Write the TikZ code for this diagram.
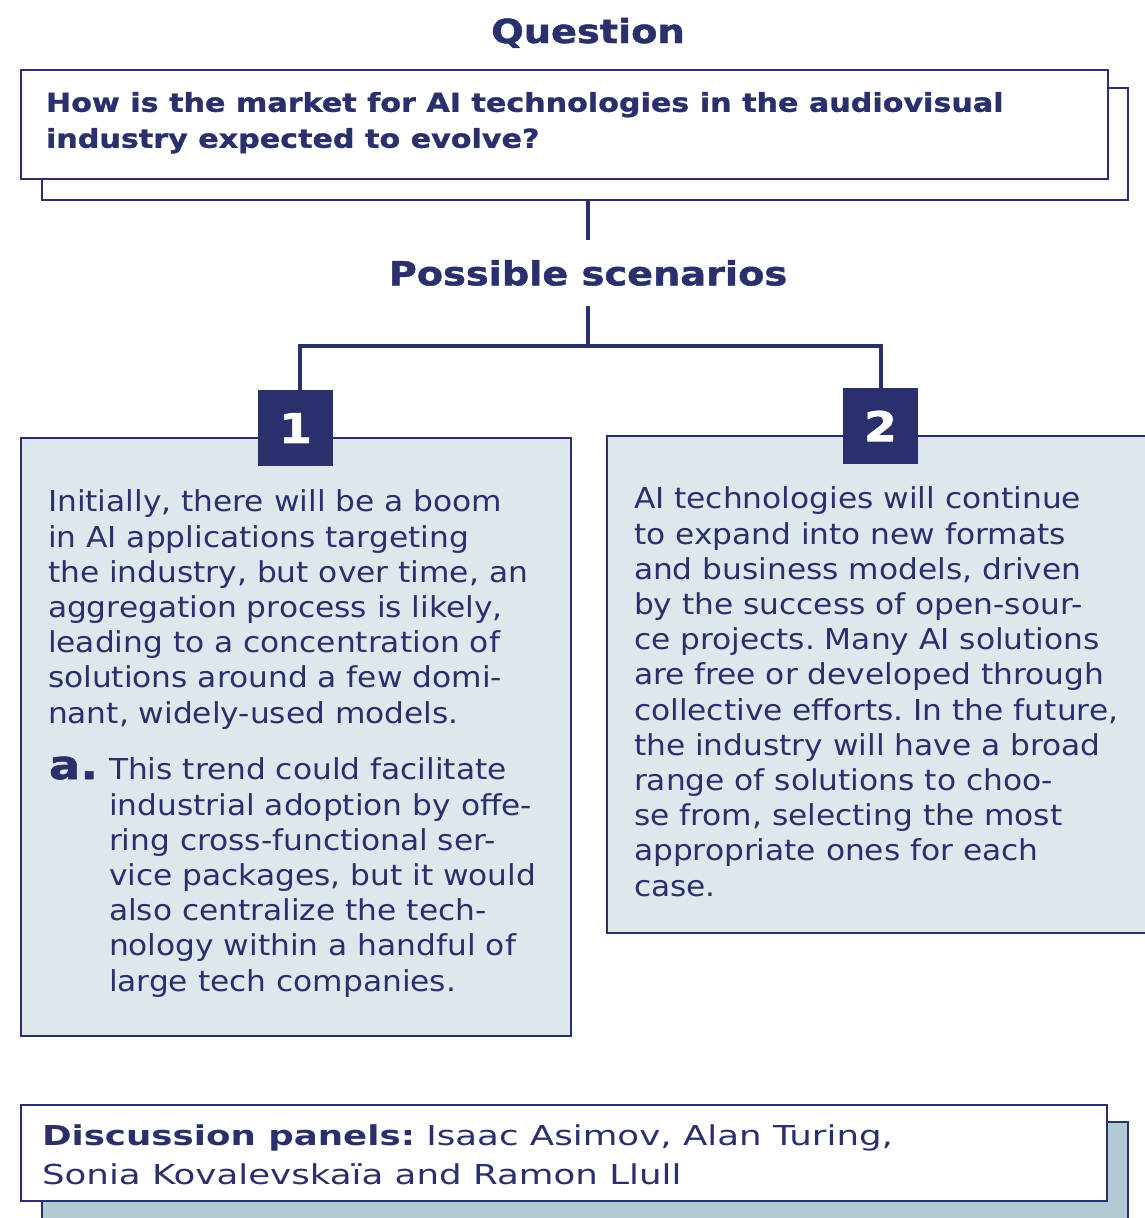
\documentclass[tikz,border=0pt]{standalone}
\usepackage{fontspec}
\usepackage{xcolor}
\setmainfont{DejaVu Sans}
\newfontfamily\bodyfont[FakeStretch=1.085]{DejaVu Sans}
\newfontfamily\headfont[FakeStretch=1.16, FakeBold=1.5]{DejaVu Sans}
\newfontfamily\qfont[FakeStretch=1.16, FakeBold=1.2]{DejaVu Sans}
\newfontfamily\panelfont[FakeStretch=1.3]{DejaVu Sans}
\definecolor{navy}{RGB}{42,48,108}
\definecolor{paleblue}{RGB}{221,231,236}
\definecolor{greyblue}{RGB}{178,202,209}
\frenchspacing

\begin{document}
\begin{tikzpicture}[x=1pt, y=-1pt,
	every node/.style = {inner sep=0pt, outer sep=0pt, text=navy},
	frame/.style = {draw=navy, line width=2pt, anchor=north west},
	badge/.style = {fill=navy, minimum width=75pt, minimum height=76pt,
	                text=white, font=\headfont\bfseries\fontsize{41}{41}\selectfont},
	link/.style = {draw=navy, line width=4pt},
	heading/.style = {font=\headfont\bfseries\fontsize{33}{33}\selectfont},
	txt/.style = {anchor=north west, align=left,
	              font=\bodyfont\fontsize{28.8}{35.2}\selectfont}]
	\useasboundingbox (0,0) rectangle (1145,1218);

	\node[heading, anchor=base] (qtitle) at (588,43) {Question};
	\node[frame, fill=white, minimum width=1086pt, minimum height=112pt] (qback) at (42,88) {};
	\node[frame, fill=white, minimum width=1087pt, minimum height=109pt] (qbox) at (21,70) {};
	\node[anchor=north west, align=left, font=\qfont\bfseries\fontsize{26}{36}\selectfont] (qtext) at (46,92)
		{How is the market for AI technologies in the audiovisual\\industry expected to evolve?};

	\node[heading, minimum height=66pt] (scen) at (588,273) {Possible scenarios};
	\coordinate (fork) at (588,346);

	\node[frame, fill=paleblue, minimum width=550pt, minimum height=598pt] (box1) at (21,438) {};
	\node[frame, fill=paleblue, minimum width=560pt, minimum height=497pt] (box2) at (607,436) {};
	\node[badge] (badge1) at (295.5,428) {\raisebox{-3pt}{1}};
	\node[badge] (badge2) at (880.5,426) {\raisebox{-3pt}{2}};

	\draw[link] (scen.north) -- (scen.north |- qback.south);
	\draw[link] (scen.south) -- (fork);
	\draw[link] ([xshift=4pt]badge1.north) |- (fork) -| (badge2.north);

	\node[txt] (text1) at (48,490)
		{Initially, there will be a boom\\in AI applications targeting\\the industry, but over time, an\\aggregation process is likely,\\leading to a concentration of\\solutions around a few domi-\\nant, widely-used models.};
	\node[anchor=base west, font=\headfont\bfseries\fontsize{40}{40}\selectfont] (item1a) at (49,779) {a.};
	\node[txt] (text1a) at (109,758)
		{This trend could facilitate\\industrial adoption by offe-\\ring cross-functional ser-\\vice packages, but it would\\also centralize the tech-\\nology within a handful of\\large tech companies.};
	\node[txt] (text2) at (634,487)
		{AI technologies will continue\\to expand into new formats\\and business models, driven\\by the success of open-sour-\\ce projects. Many AI solutions\\are free or developed through\\collective efforts. In the future,\\the industry will have a broad\\range of solutions to choo-\\se from, selecting the most\\appropriate ones for each\\case.};

	\node[frame, fill=greyblue, minimum width=1086pt, minimum height=120pt] (pback) at (42,1122) {};
	\node[frame, fill=white, minimum width=1086pt, minimum height=96pt] (pbox) at (21,1105) {};
	\node[anchor=north west, align=left, font=\panelfont\fontsize{27.4}{38.5}\selectfont] (ptext) at (42,1125)
		{\textbf{Discussion panels:} Isaac Asimov, Alan Turing,\\Sonia Kovalevskaïa and Ramon Llull};
\end{tikzpicture}
\end{document}
